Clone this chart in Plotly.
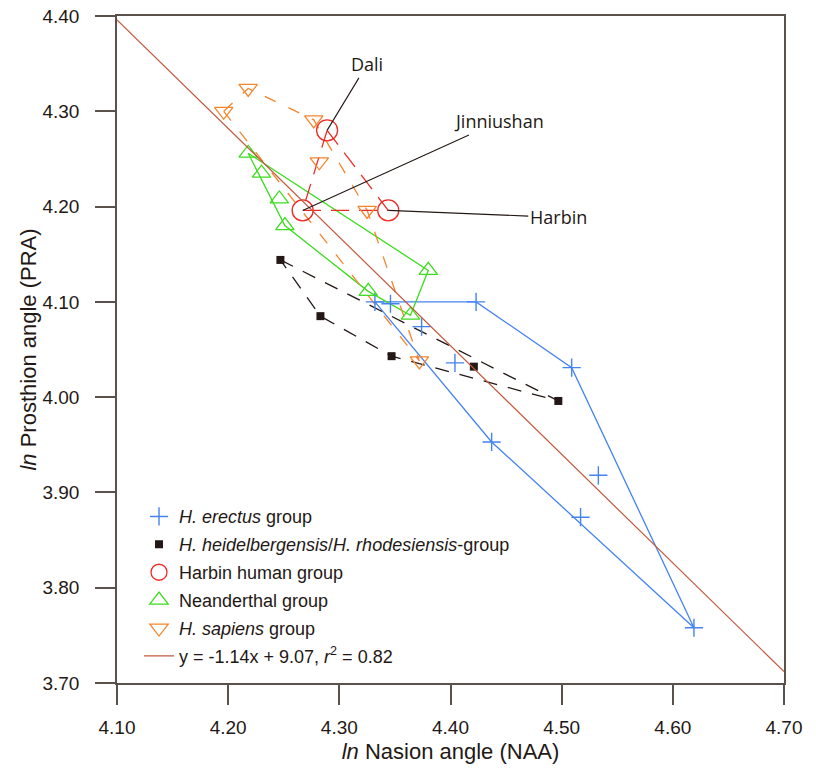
import plotly.graph_objects as go

# ---- data (ln NAA, ln PRA) ----
erectus_x = [4.332, 4.346, 4.423, 4.374, 4.404, 4.509, 4.437, 4.533, 4.517, 4.619]
erectus_y = [4.100, 4.098, 4.100, 4.074, 4.036, 4.031, 3.953, 3.918, 3.874, 3.758]
erectus_hull = [0, 2, 5, 9, 6, 0]

heid_x = [4.247, 4.283, 4.347, 4.421, 4.497]
heid_y = [4.144, 4.085, 4.043, 4.032, 3.996]
heid_hull = [0, 4, 2, 1, 0]

harbin_names = ["Dali", "Jinniushan", "Harbin"]
harbin_x = [4.289, 4.267, 4.344]
harbin_y = [4.280, 4.196, 4.196]
harbin_hull = [0, 2, 1, 0]

neand_x = [4.218, 4.230, 4.246, 4.251, 4.326, 4.380, 4.364]
neand_y = [4.256, 4.235, 4.208, 4.180, 4.111, 4.133, 4.086]
neand_hull = [0, 5, 6, 4, 3, 0]

sapiens_x = [4.218, 4.196, 4.277, 4.282, 4.325, 4.372]
sapiens_y = [4.324, 4.300, 4.291, 4.247, 4.196, 4.038]
sapiens_hull = [1, 0, 2, 4, 5, 1]

reg_slope = -1.14
reg_intercept = 9.07
reg_x = [4.10, 4.70]

x_ticks = [4.10, 4.20, 4.30, 4.40, 4.50, 4.60, 4.70]
y_ticks = [3.70, 3.80, 3.90, 4.00, 4.10, 4.20, 4.30, 4.40]

TXT = "#231815"
FRAME = "#5a504c"
BLUE = "#4483f0"
GREEN = "#3ddc1f"
ORANGE = "#f5852c"
RED = "#ee2a24"

fig = go.Figure()

def hull(xs, ys, order, color, dash):
    fig.add_trace(go.Scatter(
        x=[xs[i] for i in order], y=[ys[i] for i in order], mode="lines",
        line=dict(color=color, width=1.3, dash=dash),
        showlegend=False, hoverinfo="skip"))

hull(erectus_x, erectus_y, erectus_hull, BLUE, "solid")
hull(heid_x, heid_y, heid_hull, TXT, "14px,11px")
hull(neand_x, neand_y, neand_hull, GREEN, "solid")
hull(sapiens_x, sapiens_y, sapiens_hull, ORANGE, "12px,14px")
hull(harbin_x, harbin_y, harbin_hull, RED, "18px,10px")

reg_y = [reg_slope * v + reg_intercept for v in reg_x]

def pts(xs, ys, name, symbol, color, size, width=1.3):
    fig.add_trace(go.Scatter(
        x=xs, y=ys, mode="markers", name=name, legendgroup=name,
        marker=dict(symbol=symbol, size=size, color=color,
                    line=dict(color=color, width=width))))

pts(erectus_x, erectus_y, "<i>H. erectus</i> group", "cross-thin", BLUE, 13, width=1.4)
pts(heid_x, heid_y, "<i>H. heidelbergensis</i>/<i>H. rhodesiensis</i>-group", "square", TXT, 8, width=0)
pts(harbin_x, harbin_y, "Harbin human group", "circle-open", RED, 21, width=1.3)
pts(neand_x, neand_y, "Neanderthal group", "triangle-up-open", GREEN, 16, width=1.3)
pts(sapiens_x, sapiens_y, "<i>H. sapiens</i> group", "triangle-down-open", ORANGE, 16, width=1.3)

fig.add_trace(go.Scatter(
    x=reg_x, y=reg_y, mode="lines", name="y = -1.14x + 9.07, <i>r</i><sup>2</sup> = 0.82",
    legendgroup="reg", line=dict(color="#c0583e", width=1.2)))

# specimen labels
label_offsets = {"Dali": (40, -66), "Jinniushan": (196, -89), "Harbin": (170, 7)}
for n, xv, yv in zip(harbin_names, harbin_x, harbin_y):
    ax, ay = label_offsets[n]
    fig.add_annotation(x=xv, y=yv, text=n, showarrow=True, arrowhead=0,
                       arrowwidth=1.1, arrowcolor=TXT, ax=ax, ay=ay,
                       font=dict(family="Open Sans", size=18, color=TXT))

axis_common = dict(showline=True, mirror=True, linecolor=FRAME, linewidth=1.5,
                   ticks="outside", ticklen=20, tickwidth=1.5, tickcolor=FRAME,
                   showgrid=False, zeroline=False, automargin=False,
                   tickfont=dict(family="Liberation Sans", size=19, color=TXT))

fig.update_layout(
    width=816, height=771,
    margin=dict(l=117, r=32, t=16, b=88, autoexpand=False),
    plot_bgcolor="white", paper_bgcolor="white",
    xaxis=dict(range=[4.10, 4.70], tickvals=x_ticks,
               ticktext=[f"{v:.2f}" for v in x_ticks], ticklabelstandoff=6,
               title=dict(text="<i>ln</i> Nasion angle (NAA)", standoff=7,
                          font=dict(family="Liberation Sans", size=22, color=TXT)),
               **axis_common),
    yaxis=dict(range=[3.70, 4.40], tickvals=y_ticks,
               ticktext=[f"{v:.2f}" for v in y_ticks], ticklabelstandoff=12,
               title=dict(text="<i>ln</i> Prosthion angle (PRA)", standoff=0,
                          font=dict(family="Liberation Sans", size=22, color=TXT)),
               **axis_common),
    legend=dict(x=0.033, y=0.277, xanchor="left", yanchor="top",
                bgcolor="rgba(0,0,0,0)", tracegroupgap=1.5,
                font=dict(family="Liberation Sans", size=18, color=TXT),
                itemsizing="trace"),
    showlegend=True,
)

fig.write_html("out.html", config={"displayModeBar": False},
               post_script="document.body.style.margin='0';")
